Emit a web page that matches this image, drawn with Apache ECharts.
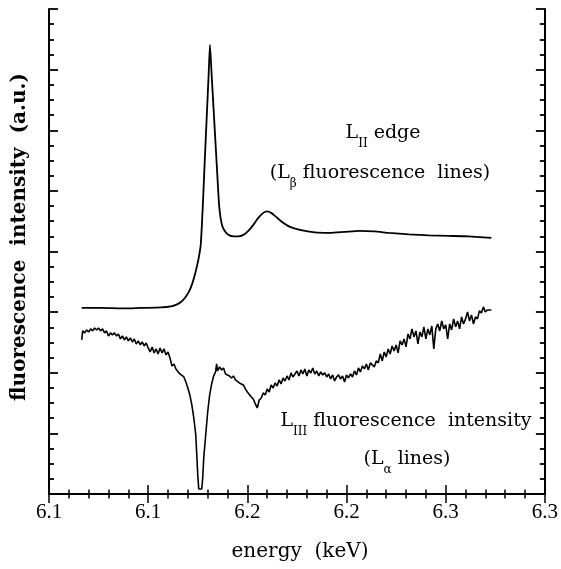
<!DOCTYPE html>
<html>
<head>
<meta charset="utf-8">
<script src="https://cdn.jsdelivr.net/npm/echarts@6/dist/echarts.min.js"></script>
<style>
  html, body { margin: 0; padding: 0; background: #fff; }
  #chart { width: 561px; height: 569px; }
</style>
</head>
<body>
<div id="chart"></div>
<script>
// ---- axis ticks ----
const xTickValues = [6.10, 6.15, 6.20, 6.25, 6.30, 6.35];
const xTickLabels = ['6.1', '6.1', '6.2', '6.2', '6.3', '6.3'];

// ---- L_II edge curve (L_beta fluorescence lines) ----
const edgeEnergy = [6.1165, 6.1265, 6.1365, 6.1465, 6.1565, 6.1615, 6.1640, 6.1665, 6.1685, 6.1705,
  6.1720, 6.1735, 6.17475, 6.17575, 6.1765, 6.1775, 6.1785, 6.1795, 6.1805, 6.18115,
  6.1820, 6.1830, 6.1840, 6.1850, 6.18575, 6.1865, 6.1875, 6.1890, 6.1905, 6.1930,
  6.1955, 6.1980, 6.2005, 6.2030, 6.2055, 6.2080, 6.2100, 6.2120, 6.2145, 6.2175,
  6.2215, 6.2265, 6.2340, 6.2415, 6.2490, 6.2565, 6.2640, 6.2715, 6.2815, 6.2915,
  6.3015, 6.3115, 6.3230];
const edgeIntensity = [3.069, 3.069, 3.061, 3.069, 3.077, 3.094, 3.119, 3.168, 3.234, 3.333,
  3.449, 3.614, 3.779, 3.944, 4.109, 4.719, 5.478, 6.204, 6.930, 7.409,
  6.914, 6.336, 5.759, 5.181, 4.769, 4.554, 4.406, 4.323, 4.274, 4.249,
  4.249, 4.274, 4.340, 4.439, 4.554, 4.637, 4.661, 4.637, 4.571, 4.488,
  4.406, 4.356, 4.315, 4.307, 4.323, 4.340, 4.331, 4.307, 4.282, 4.265,
  4.257, 4.249, 4.224];

// ---- L_III fluorescence intensity (L_alpha lines) ----
const l3Energy = [6.1165, 6.117, 6.118, 6.119, 6.120, 6.121, 6.122, 6.123, 6.124, 6.125,
  6.126, 6.127, 6.128, 6.129, 6.130, 6.131, 6.132, 6.133, 6.134, 6.135,
  6.136, 6.137, 6.138, 6.139, 6.140, 6.141, 6.142, 6.143, 6.144, 6.145,
  6.146, 6.147, 6.148, 6.149, 6.150, 6.151, 6.152, 6.153, 6.154, 6.155,
  6.156, 6.157, 6.158, 6.159, 6.160, 6.161, 6.162, 6.163, 6.164, 6.165,
  6.166, 6.167, 6.168, 6.169, 6.170, 6.171, 6.172, 6.173, 6.174, 6.1745,
  6.175, 6.1755, 6.177, 6.1775, 6.178, 6.179, 6.180, 6.181, 6.182, 6.183,
  6.184, 6.1845, 6.185, 6.186, 6.187, 6.188, 6.189, 6.190, 6.191, 6.192,
  6.193, 6.194, 6.195, 6.196, 6.197, 6.198, 6.199, 6.200, 6.201, 6.202,
  6.203, 6.204, 6.205, 6.206, 6.207, 6.208, 6.209, 6.210, 6.211, 6.212,
  6.213, 6.214, 6.215, 6.216, 6.217, 6.218, 6.219, 6.220, 6.221, 6.222,
  6.223, 6.224, 6.225, 6.226, 6.227, 6.228, 6.229, 6.230, 6.231, 6.232,
  6.233, 6.234, 6.235, 6.236, 6.237, 6.238, 6.239, 6.240, 6.241, 6.242,
  6.243, 6.244, 6.245, 6.246, 6.247, 6.248, 6.249, 6.250, 6.251, 6.252,
  6.253, 6.254, 6.255, 6.256, 6.257, 6.258, 6.259, 6.260, 6.261, 6.262,
  6.263, 6.264, 6.265, 6.266, 6.267, 6.268, 6.269, 6.270, 6.271, 6.272,
  6.273, 6.274, 6.275, 6.276, 6.277, 6.278, 6.279, 6.280, 6.281, 6.282,
  6.283, 6.284, 6.285, 6.286, 6.287, 6.288, 6.289, 6.290, 6.291, 6.292,
  6.293, 6.294, 6.295, 6.296, 6.297, 6.298, 6.299, 6.300, 6.301, 6.302,
  6.303, 6.304, 6.305, 6.306, 6.307, 6.308, 6.309, 6.310, 6.311, 6.312,
  6.313, 6.314, 6.315, 6.316, 6.317, 6.318, 6.319, 6.320, 6.321, 6.322,
  6.323];
const l3Intensity = [2.541, 2.690, 2.657, 2.706, 2.673, 2.723, 2.690, 2.739, 2.706, 2.739,
  2.690, 2.723, 2.657, 2.690, 2.607, 2.657, 2.624, 2.657, 2.607, 2.640,
  2.558, 2.607, 2.541, 2.591, 2.525, 2.574, 2.508, 2.558, 2.475, 2.525,
  2.459, 2.508, 2.442, 2.492, 2.409, 2.343, 2.426, 2.327, 2.393, 2.310,
  2.409, 2.327, 2.393, 2.294, 2.343, 2.244, 2.112, 2.145, 2.063, 2.046,
  1.980, 1.997, 1.931, 1.848, 1.749, 1.634, 1.469, 1.254, 0.974, 0.644,
  0.314, 0.083, 0.083, 0.264, 0.594, 0.974, 1.353, 1.634, 1.815, 1.947,
  2.013, 2.145, 2.030, 2.096, 2.046, 2.079, 1.980, 1.997, 1.947, 1.914,
  1.947, 1.881, 1.865, 1.832, 1.848, 1.799, 1.733, 1.683, 1.700, 1.601,
  1.568, 1.485, 1.419, 1.551, 1.584, 1.667, 1.634, 1.733, 1.683, 1.799,
  1.749, 1.832, 1.782, 1.881, 1.815, 1.914, 1.865, 1.947, 1.881, 1.997,
  1.931, 1.980, 2.030, 1.947, 2.046, 1.980, 2.063, 1.947, 2.046, 1.997,
  2.079, 1.980, 2.030, 1.947, 2.013, 1.964, 1.997, 1.931, 1.980, 1.898,
  1.964, 1.865, 1.931, 1.964, 1.898, 1.947, 1.848, 1.964, 1.914, 1.980,
  1.931, 2.030, 1.964, 2.079, 2.013, 2.112, 2.063, 2.145, 2.046, 2.162,
  2.129, 2.096, 2.195, 2.162, 2.310, 2.195, 2.343, 2.261, 2.393, 2.310,
  2.442, 2.360, 2.459, 2.327, 2.525, 2.459, 2.558, 2.426, 2.640, 2.558,
  2.723, 2.591, 2.690, 2.475, 2.673, 2.591, 2.756, 2.558, 2.723, 2.624,
  2.772, 2.393, 2.723, 2.805, 2.690, 2.855, 2.723, 2.789, 2.558, 2.805,
  2.706, 2.888, 2.756, 2.855, 2.723, 2.921, 2.805, 2.888, 3.003, 2.855,
  2.954, 2.805, 2.921, 2.888, 3.020, 2.987, 3.086, 3.003, 3.036, 3.020,
  3.036];

const edgeData = edgeEnergy.map((e, i) => [e, edgeIntensity[i]]);
const l3Data = l3Energy.map((e, i) => [e, l3Intensity[i]]);

const chart = echarts.init(document.getElementById('chart'), null, { renderer: 'canvas' });

const axisCommon = {
  type: 'value',
  axisLine: { show: true, lineStyle: { color: '#000', width: 2 } },
  splitLine: { show: false },
};

const labelFmt = (v) => {
  const i = xTickValues.findIndex(t => Math.abs(t - v) < 1e-6);
  return i >= 0 ? xTickLabels[i] : '';
};

const serif = 'DejaVu Serif';
const richStyles = {
  n: { fontFamily: serif, fontSize: 19, lineHeight: 22, verticalAlign: 'top', color: '#000' },
  s: { fontFamily: serif, fontSize: 12, lineHeight: 12, padding: [14, 0, 0, 0], verticalAlign: 'top', color: '#000' }
};

function annot(x, y, text) {
  return {
    type: 'text', x: x, y: y, silent: true,
    style: { text: text, rich: richStyles, align: 'center', verticalAlign: 'middle', fill: '#000' }
  };
}

chart.setOption({
  animation: false,
  backgroundColor: '#fff',
  grid: { left: 49, right: 13, top: 9, bottom: 75, containLabel: false },
  xAxis: [
    Object.assign({}, axisCommon, {
      position: 'bottom', min: 6.10, max: 6.35, interval: 0.05,
      axisTick: { show: true, inside: true, length: 9, lineStyle: { color: '#000', width: 1.5 } },
      minorTick: { show: true, splitNumber: 5, length: 4.5, lineStyle: { color: '#000', width: 1.5 } },
      axisLabel: { show: true, formatter: labelFmt, margin: 8, fontFamily: 'Liberation Serif', fontSize: 21, color: '#000', showMinLabel: true, showMaxLabel: true }
    }),
    Object.assign({}, axisCommon, {
      position: 'top', min: 6.10, max: 6.35, interval: 0.05,
      axisTick: { show: true, inside: true, length: 9, lineStyle: { color: '#000', width: 1.5 } },
      minorTick: { show: true, splitNumber: 5, length: 4.5, lineStyle: { color: '#000', width: 1.5 } },
      axisLabel: { show: false }
    })
  ],
  yAxis: [
    Object.assign({}, axisCommon, {
      position: 'left', min: 0, max: 8, interval: 1,
      axisTick: { show: true, inside: true, length: 9, lineStyle: { color: '#000', width: 1.8 } },
      minorTick: { show: true, splitNumber: 4, length: 5, lineStyle: { color: '#000', width: 1.8 } },
      axisLabel: { show: false }
    }),
    Object.assign({}, axisCommon, {
      position: 'right', min: 0, max: 8, interval: 1,
      axisTick: { show: true, inside: true, length: 9, lineStyle: { color: '#000', width: 1.8 } },
      minorTick: { show: true, splitNumber: 4, length: 5, lineStyle: { color: '#000', width: 1.8 } },
      axisLabel: { show: false }
    })
  ],
  series: [
    {
      name: 'L_II edge', type: 'line', xAxisIndex: 0, yAxisIndex: 0,
      data: edgeData, showSymbol: false, smooth: 0.2,
      lineStyle: { color: '#000', width: 1.8 }
    },
    {
      name: 'L_III fluorescence intensity', type: 'line', xAxisIndex: 0, yAxisIndex: 0,
      data: l3Data, showSymbol: false, smooth: false,
      lineStyle: { color: '#000', width: 1.6 }
    }
  ],
  graphic: [
    annot(383, 135, '{n|L}{s|II}{n| edge}'),
    annot(380, 175, '{n|(L}{s|β}{n| fluorescence  lines)}'),
    annot(406, 423, '{n|L}{s|III}{n| fluorescence  intensity}'),
    annot(407, 461, '{n|(L}{s|α}{n| lines)}'),
    {
      type: 'text', x: 20, y: 237, rotation: Math.PI / 2, silent: true,
      style: { text: 'fluorescence  intensity  (a.u.)', fontFamily: serif, fontWeight: 'bold', fontSize: 20, fill: '#000', align: 'center', verticalAlign: 'middle' }
    },
    {
      type: 'text', x: 300, y: 552, silent: true,
      style: { text: 'energy  (keV)', fontFamily: serif, fontSize: 20, fill: '#000', align: 'center', verticalAlign: 'middle' }
    }
  ]
});
</script>
</body>
</html>
